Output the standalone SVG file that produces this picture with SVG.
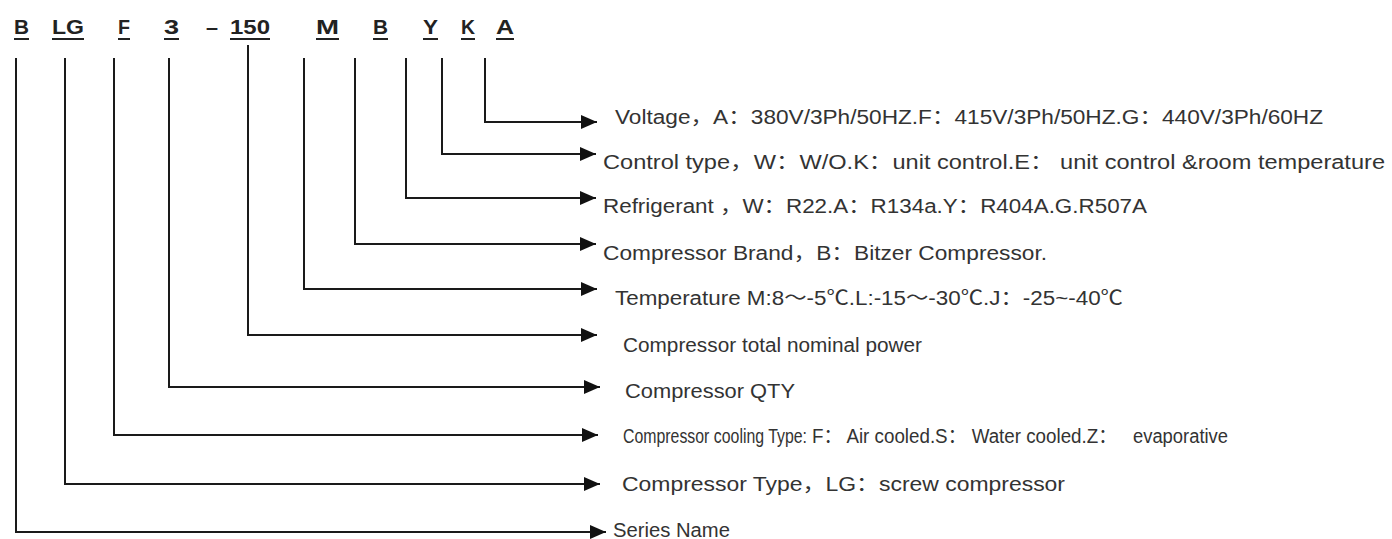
<svg xmlns="http://www.w3.org/2000/svg" width="1392" height="539" viewBox="0 0 1392 539">
<style>
.code{font-family:"Liberation Sans","DejaVu Sans",sans-serif;font-weight:bold;font-size:20px;fill:#222}
.ul{stroke:#222;stroke-width:2}
.lbl{font-family:"Liberation Sans","Noto Sans CJK SC",sans-serif;fill:#333;font-size:20px}
.conn{fill:none;stroke:#1a1a1a;stroke-width:2;marker-end:url(#arr)}
</style>
<defs>
<marker id="arr" markerUnits="userSpaceOnUse" markerWidth="18" markerHeight="16" refX="16" refY="7" orient="auto">
<path d="M0,0 L16,7 L0,14 z" fill="#111"/>
</marker>
</defs>
<rect width="1392" height="539" fill="#fff"/>
<g id="code">
<text class="code" x="14" y="34" textLength="15" lengthAdjust="spacingAndGlyphs">B</text>
<text class="code" x="52" y="34" textLength="32" lengthAdjust="spacingAndGlyphs">LG</text>
<text class="code" x="118" y="34" textLength="12" lengthAdjust="spacingAndGlyphs">F</text>
<text class="code" x="164" y="34" textLength="15" lengthAdjust="spacingAndGlyphs">3</text>
<text class="code" x="206" y="34" textLength="12" lengthAdjust="spacingAndGlyphs">–</text>
<text class="code" x="230" y="34" textLength="40" lengthAdjust="spacingAndGlyphs">150</text>
<text class="code" x="316" y="34" textLength="23" lengthAdjust="spacingAndGlyphs">M</text>
<text class="code" x="373" y="34" textLength="15" lengthAdjust="spacingAndGlyphs">B</text>
<text class="code" x="423" y="34" textLength="15" lengthAdjust="spacingAndGlyphs">Y</text>
<text class="code" x="461" y="34" textLength="14" lengthAdjust="spacingAndGlyphs">K</text>
<text class="code" x="496" y="34" textLength="18" lengthAdjust="spacingAndGlyphs">A</text>
<line class="ul" x1="14" y1="39" x2="29" y2="39"/>
<line class="ul" x1="52" y1="39" x2="84" y2="39"/>
<line class="ul" x1="118" y1="39" x2="130" y2="39"/>
<line class="ul" x1="164" y1="39" x2="179" y2="39"/>
<line class="ul" x1="230" y1="39" x2="270" y2="39"/>
<line class="ul" x1="316" y1="39" x2="339" y2="39"/>
<line class="ul" x1="373" y1="39" x2="388" y2="39"/>
<line class="ul" x1="423" y1="39" x2="438" y2="39"/>
<line class="ul" x1="461" y1="39" x2="475" y2="39"/>
<line class="ul" x1="496" y1="39" x2="514" y2="39"/>
</g>
<g id="connectors">
<polyline class="conn" points="485,58 485,122 597,122"/>
<polyline class="conn" points="442,58 442,154 596,154"/>
<polyline class="conn" points="406,58 406,198 596,198"/>
<polyline class="conn" points="355,58 355,244 596,244"/>
<polyline class="conn" points="304,58 304,289 597,289"/>
<polyline class="conn" points="248,45 248,335 597,335"/>
<polyline class="conn" points="169,58 169,387 600,387"/>
<polyline class="conn" points="114,58 114,435 598,435"/>
<polyline class="conn" points="65,58 65,484 600,484"/>
<polyline class="conn" points="16,58 16,532 606,532"/>
</g>
<g id="n-voltage"><text class="lbl" x="615" y="124" font-size="21" textLength="708" lengthAdjust="spacingAndGlyphs">Voltage，A：380V/3Ph/50HZ.F：415V/3Ph/50HZ.G：440V/3Ph/60HZ</text></g>
<g id="n-control"><text class="lbl" x="603" y="169" font-size="21" textLength="782" lengthAdjust="spacingAndGlyphs">Control type，W：W/O.K：unit control.E： unit control &amp;room temperature</text></g>
<g id="n-refrigerant"><text class="lbl" x="603" y="213" textLength="544" lengthAdjust="spacingAndGlyphs">Refrigerant ，W：R22.A：R134a.Y：R404A.G.R507A</text></g>
<g id="n-brand"><text class="lbl" x="603" y="260" textLength="444" lengthAdjust="spacingAndGlyphs">Compressor Brand，B：Bitzer Compressor.</text></g>
<g id="n-temp"><text class="lbl" x="615" y="305" textLength="508" lengthAdjust="spacingAndGlyphs">Temperature M:8～-5℃.L:-15～-30℃.J：-25~-40℃</text></g>
<g id="n-power"><text class="lbl" x="623" y="352" font-size="17" textLength="299" lengthAdjust="spacingAndGlyphs">Compressor total nominal power</text></g>
<g id="n-qty"><text class="lbl" x="625" y="398" font-size="21" textLength="170" lengthAdjust="spacingAndGlyphs">Compressor QTY</text></g>
<g id="n-cooling">
<text class="lbl" x="623" y="443" font-size="16" textLength="184" lengthAdjust="spacingAndGlyphs">Compressor cooling Type:</text>
<text class="lbl" x="812" y="443" font-size="13" textLength="305" lengthAdjust="spacingAndGlyphs">F： Air cooled.S： Water cooled.Z：</text>
<text class="lbl" x="1133" y="443" font-size="13" textLength="95" lengthAdjust="spacingAndGlyphs">evaporative</text>
</g>
<g id="n-type"><text class="lbl" x="622" y="491" font-size="21" textLength="443" lengthAdjust="spacingAndGlyphs">Compressor Type，LG：screw compressor</text></g>
<g id="n-series"><text class="lbl" x="613" y="537" font-size="21" textLength="117" lengthAdjust="spacingAndGlyphs">Series Name</text></g>
</svg>
